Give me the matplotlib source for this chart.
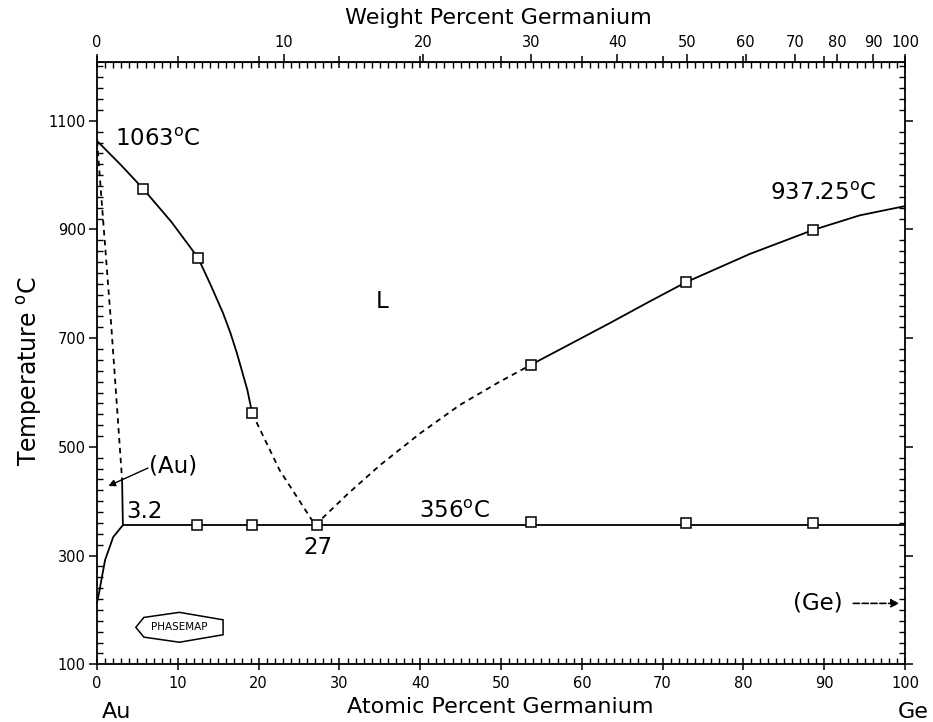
import numpy as np
import matplotlib.pyplot as plt
from matplotlib.patches import Polygon
from matplotlib.ticker import MultipleLocator, FixedLocator

plt.rcParams['font.family'] = 'DejaVu Sans'
plt.rcParams['mathtext.default'] = 'regular'

# atomic masses for the weight-percent scale on top
M_AU = 196.97
M_GE = 72.63

# liquidus, Au side (solid part then dashed part)
liq_au_x = [0, 3.0, 5.7, 9.2, 12.5, 14.0, 15.6, 16.5, 17.3, 18.6, 19.2]
liq_au_t = [1063, 1018, 975, 914, 848, 800, 746, 710, 673, 605, 562]
liq_au_dash_x = [19.2, 22.6, 27]
liq_au_dash_t = [562, 457, 356]

# liquidus, Ge side
liq_ge_dash_x = [27, 31, 35, 40, 44.9, 49.5, 53.7]
liq_ge_dash_t = [356, 413, 466, 525, 577, 617, 651]
liq_ge_x = [53.7, 63.5, 68.2, 72.9, 80.8, 88.6, 94.4, 100]
liq_ge_t = [651, 728, 766, 803, 855, 899, 926, 943]

# (Au) solidus and solvus
sol_dash_x = [0, 1.8, 3.1]
sol_dash_t = [1063, 715, 440]
sol_x = [3.1, 3.2]
sol_t = [440, 356]
solvus_x = [3.2, 2.0, 1.0, 0.6, 0.25, 0]
solvus_t = [356, 334, 292, 260, 231, 214]

# eutectic line
eut_x = [3.2, 100]
eut_t = [356, 356]

# experimental points
sq_liq_x = [5.7, 12.5, 19.2, 53.7, 72.9, 88.6]
sq_liq_t = [975, 848, 562, 651, 803, 899]
sq_eut_x = [12.4, 19.2, 27.2, 53.7, 72.9, 88.6]
sq_eut_t = [356, 357, 356, 361, 360, 360]

wt_ticks = [0, 10, 20, 30, 40, 50, 60, 70, 80, 90, 100]


def at2wt(x):
    x = np.asarray(x, dtype=float)
    with np.errstate(divide='ignore', invalid='ignore'):
        return 100 * x * M_GE / (x * M_GE + (100 - x) * M_AU)


def wt2at(w):
    w = np.asarray(w, dtype=float)
    with np.errstate(divide='ignore', invalid='ignore'):
        return 100 * (w / M_GE) / (w / M_GE + (100 - w) / M_AU)


fig = plt.figure(figsize=(9.33, 7.22), dpi=100)
ax = fig.add_axes([0.104, 0.080, 0.866, 0.834])

lw = 1.3
dash = (0, (3, 2.5))
ax.plot(liq_au_x, liq_au_t, color='k', lw=lw)
ax.plot(liq_au_dash_x, liq_au_dash_t, color='k', lw=lw, ls=dash)
ax.plot(liq_ge_dash_x, liq_ge_dash_t, color='k', lw=lw, ls=dash)
ax.plot(liq_ge_x, liq_ge_t, color='k', lw=lw)
ax.plot(sol_dash_x, sol_dash_t, color='k', lw=lw, ls=dash)
ax.plot(sol_x, sol_t, color='k', lw=lw)
ax.plot(solvus_x, solvus_t, color='k', lw=lw)
ax.plot(eut_x, eut_t, color='k', lw=lw)

ax.plot(sq_liq_x, sq_liq_t, ls='none', marker='s', ms=7, mfc='white',
        mec='k', mew=1.1)
ax.plot(sq_eut_x, sq_eut_t, ls='none', marker='s', ms=7, mfc='white',
        mec='k', mew=1.1)

ax.set_xlim(0, 100)
ax.set_ylim(100, 1208)

# ticks
ax.xaxis.set_major_locator(MultipleLocator(10))
ax.xaxis.set_minor_locator(MultipleLocator(1))
ax.yaxis.set_major_locator(FixedLocator([100, 300, 500, 700, 900, 1100]))
ax.yaxis.set_minor_locator(MultipleLocator(20))
ax.tick_params(which='major', direction='inout', length=9, width=1.1,
               labelsize=10.5, top=True, right=True)
ax.tick_params(which='minor', direction='in', length=4, width=1.0,
               top=True, right=True)
ax.tick_params(axis='y', which='major', direction='out', length=6, pad=2)
ax.tick_params(axis='x', which='major', pad=4)
for s in ax.spines.values():
    s.set_linewidth(1.3)

secax = ax.secondary_xaxis('top', functions=(at2wt, wt2at))
secax.xaxis.set_major_locator(FixedLocator(wt_ticks))
secax.xaxis.set_minor_locator(FixedLocator([]))
secax.tick_params(direction='out', length=6, width=1.1, labelsize=10.5, pad=3)

# annotations
fs = 16.5
ax.text(2.2, 1065, '1063$^{o}$C', fontsize=fs, va='center')
ax.text(83.3, 967, '937.25$^{o}$C', fontsize=fs, va='center')
ax.text(35.3, 767, 'L', fontsize=fs, va='center', ha='center')
ax.text(39.8, 381, '356$^{o}$C', fontsize=fs, va='center')
ax.text(3.6, 381, '3.2', fontsize=fs, va='center')
ax.text(27.3, 314, '27', fontsize=fs, va='center', ha='center')
ax.text(6.4, 465, '(Au)', fontsize=fs, va='center')
ax.annotate('', xy=(1.4, 428), xytext=(6.3, 461),
            arrowprops=dict(arrowstyle='-|>', color='k', lw=1.0,
                            mutation_scale=10, shrinkA=0, shrinkB=0))
ax.text(89.2, 212, '(Ge)', fontsize=fs, va='center', ha='center')
ax.annotate('', xy=(99.3, 212), xytext=(93.6, 212),
            arrowprops=dict(arrowstyle='-|>', color='k', lw=1.2, ls='--',
                            mutation_scale=12, shrinkA=0, shrinkB=0))

# PHASEMAP badge
bx, by, bw, bh = 10.2, 168, 10.8, 55
badge = [(bx - bw / 2, by), (bx - bw / 2 + 1.0, by + bh * 0.33),
         (bx, by + bh / 2), (bx + bw / 2, by + bh * 0.25),
         (bx + bw / 2, by - bh * 0.25), (bx, by - bh / 2),
         (bx - bw / 2 + 1.0, by - bh * 0.33)]
ax.add_patch(Polygon(badge, closed=True, fill=False, ec='k', lw=1.1))
ax.text(bx, by, 'PHASEMAP', fontsize=7.5, ha='center', va='center')

# axis titles
fig.text(0.534, 1 - 18 / 722, 'Weight Percent Germanium', fontsize=16,
         ha='center', va='center')
fig.text(0.536, 1 - 707 / 722, 'Atomic Percent Germanium', fontsize=16,
         ha='center', va='center')
fig.text(117 / 933, 1 - 712 / 722, 'Au', fontsize=16, ha='center', va='center')
fig.text(913 / 933, 1 - 712 / 722, 'Ge', fontsize=16, ha='center', va='center')
fig.text(0.032, 0.486, 'Temperature $^{o}$C', fontsize=17, rotation=90,
         ha='center', va='center')

fig.savefig('out.png', dpi=100)
